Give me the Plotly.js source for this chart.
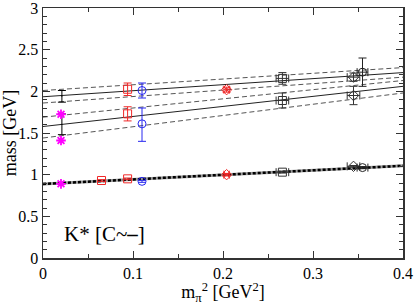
<!DOCTYPE html>
<html><head><meta charset="utf-8">
<script src="https://cdn.plot.ly/plotly-3.0.1.min.js"></script>
<style>body{margin:0;padding:0;background:#fff}#plot{width:415px;height:305px}</style>
</head><body><div id="plot"></div>
<script>
// fit lines, at x = 0 and 0.4
const fitX = [0, 0.4];
const gsFit = [0.889, 1.107];
const ex2Fit = [1.935, 2.225];
const ex2Hi = [2.01, 2.285];
const ex2Lo = [1.86, 2.17];
const ex1Fit = [1.578, 2.06];
const ex1Hi = [1.69, 2.13];
const ex1Lo = [1.44, 1.98];

// extrapolated values at physical point
const physX = [0.021, 0.021];
const physY = [1.94, 1.605];
const physErr = [0.07, 0.125];

// magenta (experiment)
const expX = [0.02, 0.02, 0.02];
const expY = [1.725, 1.41, 0.89];

// red squares
const redSqX = [0.065, 0.094, 0.094, 0.094];
const redSqY = [0.93, 0.95, 2.025, 1.73];
const redSqErr = [0.01, 0.01, 0.075, 0.085];

// red at 0.204
const redDX = [0.204, 0.204];
const redDY = [2.02, 1.0];
const redDErr = [0.03, 0.015];

// blue circles
const blueX = [0.11, 0.11, 0.11];
const blueY = [2.01, 1.61, 0.92];
const blueErrP = [0.09, 0.19, 0.012];
const blueErrM = [0.09, 0.21, 0.012];

// black squares
const bSqX = [0.266, 0.266, 0.266];
const bSqY = [2.155, 1.89, 1.03];
const bSqErr = [0.07, 0.09, 0.01];

// black diamonds
const bDX = [0.345, 0.345, 0.345];
const bDY = [2.17, 1.95, 1.1];
const bDErr = [0.05, 0.11, 0.01];

// black circles
const bCX = [0.355, 0.355];
const bCY = [2.23, 1.085];
const bCErr = [0.17, 0.012];

const xTickVals = [0, 0.1, 0.2, 0.3, 0.4];
const xTickText = ['0', '0.1', '0.2', '0.3', '0.4'];
const yTickVals = [0, 0.5, 1, 1.5, 2, 2.5, 3];
const yTickText = ['0', '0.5', '1', '1.5', '2', '2.5', '3'];

const SERIF = 'Liberation Serif';
function line(y, dash, color, w) {
  return {x: fitX, y: y, mode: 'lines', line: {color: color, width: w, dash: dash}, hoverinfo: 'skip'};
}
const RED = '#f02828', BLUE = '#2828f0', MAG = '#ff00ff';
function pts(x, y, ep, em, col, sym, xe) {
  const t = {x: x, y: y, mode: 'markers', type: 'scatter',
    marker: {symbol: sym, size: 8, color: col, line: {color: col, width: 1}},
    error_y: {type: 'data', array: ep, arrayminus: em, color: col, thickness: 1, width: 4}};
  if (xe) t.error_x = {type: 'constant', value: xe, color: col, thickness: 1, width: 4};
  return t;
}

const data = [
  line(ex2Hi, '5px,3px', '#555', 1), line(ex2Lo, '5px,3px', '#555', 1), line(ex2Fit, 'solid', '#222', 1),
  line(ex1Hi, '5px,3px', '#555', 1), line(ex1Lo, '5px,3px', '#555', 1), line(ex1Fit, 'solid', '#222', 1),
  line(gsFit, 'solid', '#999', 3), line(gsFit, '3px,2px', '#000', 2.5),
  {x: physX, y: physY, mode: 'markers', marker: {size: 1, color: '#000'},
   error_y: {type: 'data', array: physErr, color: '#000', thickness: 1, width: 4}},
  {x: expX, y: expY, mode: 'markers',
   marker: {symbol: 'asterisk-open', size: 8, color: MAG, line: {color: MAG, width: 1.8}}},
  pts(redSqX, redSqY, redSqErr, redSqErr, RED, 'square-open'),
  pts(redDX, redDY, redDErr, redDErr, RED, 'diamond-x-open', 0.003),
  pts(blueX, blueY, blueErrP, blueErrM, BLUE, 'circle-open'),
  pts(bSqX, bSqY, bSqErr, bSqErr, '#333', 'square-open', 0.007),
  pts(bDX, bDY, bDErr, bDErr, '#333', 'diamond-open', 0.007),
  pts(bCX, bCY, bCErr, bCErr, '#222', 'circle-open', 0.006)
];

const layout = {
  width: 415, height: 305,
  margin: {l: 43, r: 12, t: 8, b: 47},
  paper_bgcolor: '#fff', plot_bgcolor: '#fff',
  showlegend: false,
  font: {family: SERIF, size: 16, color: '#000'},
  xaxis: {
    range: [0, 0.4], tickmode: 'array', tickvals: xTickVals, ticktext: xTickText,
    showline: true, linecolor: '#333', linewidth: 1.5, mirror: 'allticks',
    ticks: 'inside', ticklen: 7, tickcolor: '#333', tickwidth: 1,
    showgrid: false, zeroline: false, ticklabeloverflow: 'allow',
    tickfont: {family: SERIF, size: 16, color: '#000'},
    minor: {dtick: 0.05, tick0: 0, ticks: 'inside', ticklen: 4, tickcolor: '#333', showgrid: false},
    title: {text: 'm<sub>π</sub><sup>2</sup> [GeV<sup>2</sup>]', standoff: 3,
      font: {family: SERIF, size: 18, color: '#000'}}
  },
  yaxis: {
    range: [0, 3], tickmode: 'array', tickvals: yTickVals, ticktext: yTickText,
    showline: true, linecolor: '#333', linewidth: 1.5, mirror: 'allticks',
    ticks: 'inside', ticklen: 7, tickcolor: '#333', tickwidth: 1,
    showgrid: false, zeroline: false, ticklabeloverflow: 'allow',
    tickfont: {family: SERIF, size: 16, color: '#000'},
    minor: {dtick: 0.1, tick0: 0, ticks: 'inside', ticklen: 4, tickcolor: '#333', showgrid: false},
    title: {text: 'mass [GeV]', standoff: 3,
      font: {family: SERIF, size: 18, color: '#000'}}
  },
  annotations: [{
    xref: 'x', yref: 'y', x: 0.021, y: 0.29, xanchor: 'left', yanchor: 'middle',
    text: 'K* [C~<b>–</b>]', showarrow: false,
    font: {family: SERIF, size: 21, color: '#000'}
  }]
};
Plotly.newPlot('plot', data, layout, {staticPlot: true, displayModeBar: false});
</script></body></html>
